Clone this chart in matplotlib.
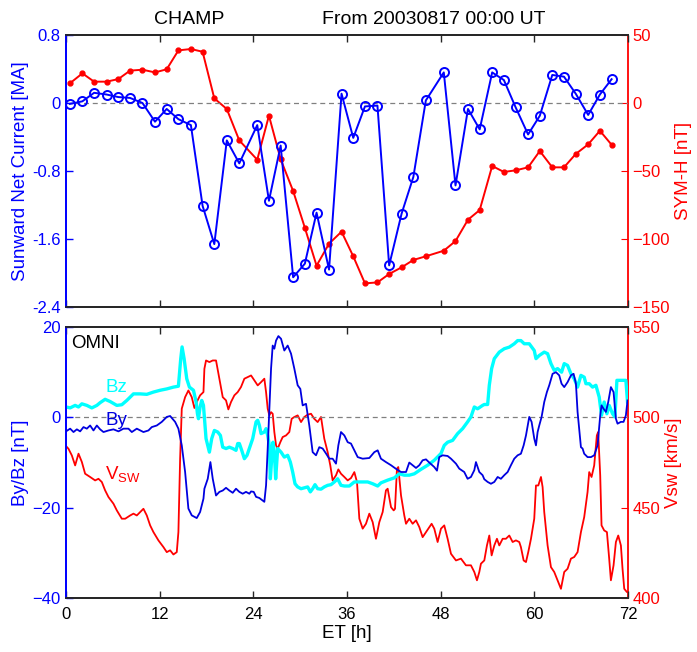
import matplotlib
matplotlib.use("Agg")
import matplotlib.pyplot as plt

plt.rcParams['font.family'] = ['Liberation Sans', 'DejaVu Sans']
plt.rcParams['font.size'] = 13.5

# CHAMP passes: sunward net current and SYM-H
et_champ = [0.5, 2.1, 3.6, 5.2, 6.7, 8.2, 9.8, 11.4, 12.9, 14.4,
            16.0, 17.5, 19.0, 20.6, 22.2, 24.5, 26.0, 27.5, 29.1, 30.6,
            32.1, 33.7, 35.3, 36.8, 38.3, 39.9, 41.4, 43.0, 44.5, 46.1,
            48.4, 49.9, 51.5, 53.0, 54.6, 56.1, 57.6, 59.2, 60.7, 62.3,
            63.8, 65.3, 66.9, 68.4, 69.9]
net_current = [-0.01, 0.02, 0.12, 0.10, 0.07, 0.06, 0.0, -0.22, -0.07, -0.19,
               -0.26, -1.21, -1.66, -0.44, -0.71, -0.26, -1.15, -0.50, -2.05, -1.89,
               -1.29, -1.96, 0.11, -0.41, -0.04, -0.03, -1.91, -1.30, -0.87, 0.03,
               0.36, -0.97, -0.07, -0.31, 0.36, 0.27, -0.05, -0.37, -0.15, 0.33,
               0.31, 0.11, -0.14, 0.10, 0.28]
sym_h = [14.5, 21.8, 15.7, 15.7, 17.6, 23.8, 24.5, 22.5, 24.8, 38.7,
         39.7, 37.7, 3.4, -4.4, -27.5, -41.7, -9.3, -41.4, -64.7, -91.7,
         -119.6, -103.4, -94.6, -112.7, -132.6, -131.9, -125.7, -120.8, -115.4, -112.7,
         -108.6, -101.5, -85.8, -78.7, -46.3, -50.7, -49.5, -47.3, -35.3, -47.3,
         -47.3, -37.5, -30.4, -20.4, -30.7]

# OMNI IMF Bz
et_bz = [0.0, 0.53, 1.17, 1.60, 2.03, 2.67, 3.31, 3.95, 4.37, 5.01,
         5.66, 6.51, 7.15, 7.79, 8.64, 9.50, 10.35, 11.20, 12.06, 12.91,
         13.76, 14.40, 14.70, 14.87, 15.13, 15.47, 15.81, 16.33, 16.67, 16.84,
         16.97, 17.18, 17.39, 17.61, 17.94, 18.37, 18.67, 19.01, 19.44, 19.78,
         20.08, 20.50, 20.93, 21.36, 21.78, 22.00, 22.21, 22.51, 22.85, 23.19,
         23.49, 23.92, 24.35, 24.56, 24.77, 24.99, 25.41, 25.63, 25.84, 26.05,
         26.18, 26.35, 26.52, 26.69, 26.86, 27.12, 27.55, 27.97, 28.40, 28.74,
         29.04, 29.34, 29.68, 30.11, 30.53, 30.96, 31.30, 31.60, 31.90, 32.24,
         32.67, 33.09, 33.52, 33.95, 34.38, 34.80, 35.23, 35.66, 36.30, 36.94,
         37.79, 38.65, 39.29, 39.93, 40.35, 41.21, 42.06, 42.70, 43.34, 43.98,
         44.62, 45.48, 46.33, 47.18, 48.04, 48.46, 48.89, 49.53, 50.17, 50.81,
         51.45, 51.88, 52.31, 52.73, 53.37, 53.59, 54.02, 54.23, 54.53, 54.87,
         55.51, 56.15, 56.79, 57.43, 57.86, 58.28, 58.71, 59.35, 59.99, 60.21,
         60.63, 61.27, 61.70, 62.13, 62.55, 62.98, 63.49, 63.83, 64.26, 64.69,
         65.11, 65.54, 65.97, 66.39, 66.61, 67.03, 67.46, 67.89, 68.31, 68.61,
         68.95, 69.30, 69.59, 70.02, 70.32, 70.58, 71.17, 71.73, 71.94]
bz = [2.3, 2.1, 2.65, 2.3, 3.0, 2.65, 2.1, 2.65, 3.25, 4.0,
      3.5, 2.65, 2.8, 3.75, 5.2, 5.2, 5.1, 5.6, 6.0, 6.3,
      6.7, 6.9, 13.0, 15.6, 13.0, 8.55, 6.7, 6.0, 3.4, 0.8,
      -0.3, 2.3, 3.75, 2.65, -4.7, -7.7, -4.7, -2.9, -3.25, -4.0,
      -6.6, -6.9, -6.6, -6.9, -7.3, -5.8, -5.8, -7.3, -9.15, -8.4,
      -6.9, -4.7, -1.0, -0.65, -1.75, -3.6, -3.25, -2.5, -4.0, -6.2,
      -13.6, -9.15, -5.5, -7.7, -13.6, -6.9, -7.7, -8.8, -8.4, -9.9,
      -12.1, -14.7, -15.4, -15.8, -15.6, -15.4, -16.5, -15.8, -14.9, -15.8,
      -15.9, -15.4, -15.05, -14.9, -14.3, -13.6, -15.05, -15.2, -15.2, -14.3,
      -14.3, -14.3, -14.7, -15.2, -14.5, -13.9, -13.4, -12.5, -12.8, -12.8,
      -12.5, -11.5, -10.6, -9.5, -8.0, -6.2, -5.5, -5.1, -3.6, -2.5,
      -1.0, 0.1, 2.3, 1.9, 2.65, 2.85, 2.85, 7.1, 10.8, 13.0,
      14.45, 15.2, 15.55, 16.3, 17.0, 17.0, 16.3, 16.3, 14.8, 13.0,
      13.7, 14.45, 14.1, 11.9, 10.4, 10.8, 10.0, 11.9, 11.5, 9.65,
      8.55, 6.7, 9.3, 8.9, 7.45, 7.45, 6.7, 7.1, 4.5, 0.45,
      3.4, 0.8, 2.65, 0.8, 0.1, 8.2, 8.2, 8.2, 3.4]

# OMNI IMF By
et_by = [0.0, 0.53, 0.96, 1.39, 1.81, 2.24, 2.67, 3.09, 3.52, 3.95,
         4.37, 4.80, 5.44, 6.08, 6.72, 7.36, 8.00, 8.43, 9.07, 9.92,
         10.56, 10.99, 11.63, 12.27, 12.91, 13.34, 13.98, 14.40, 14.83, 15.26,
         15.68, 16.11, 16.75, 17.18, 17.61, 17.73, 18.16, 18.50, 18.80, 19.22,
         19.65, 20.08, 20.50, 20.93, 21.36, 21.78, 22.21, 22.64, 23.06, 23.49,
         23.71, 24.05, 24.35, 24.77, 25.41, 25.63, 25.84, 26.05, 26.27, 26.48,
         26.69, 26.91, 27.21, 27.55, 27.97, 28.40, 28.83, 29.25, 29.68, 30.02,
         30.32, 30.75, 31.17, 31.60, 32.03, 32.45, 32.88, 33.31, 33.73, 34.16,
         34.59, 34.89, 35.23, 35.66, 36.09, 36.51, 36.94, 37.37, 38.01, 38.86,
         39.50, 39.93, 40.35, 40.99, 41.64, 42.28, 42.92, 43.56, 43.98, 44.41,
         44.84, 45.26, 45.69, 46.12, 46.54, 47.18, 47.53, 47.82, 48.25, 48.89,
         49.32, 49.96, 50.38, 51.02, 51.45, 51.88, 52.31, 52.52, 52.95, 53.37,
         53.59, 54.02, 54.44, 54.87, 55.30, 55.72, 56.15, 56.58, 57.00, 57.43,
         57.86, 58.28, 58.63, 58.93, 59.35, 59.65, 59.99, 60.21, 60.42, 60.63,
         60.93, 61.27, 61.61, 61.91, 62.34, 62.77, 63.19, 63.49, 63.83, 64.26,
         64.69, 65.03, 65.33, 65.54, 65.75, 65.97, 66.18, 66.39, 66.82, 67.25,
         67.67, 68.10, 68.44, 68.61, 68.87, 69.17, 69.47, 69.81, 70.15, 70.45,
         70.66, 71.09, 71.43, 71.73, 71.94]
by = [-3.1, -2.5, -3.25, -2.65, -3.1, -2.15, -2.5, -1.8, -2.9, -1.8,
      -2.65, -3.25, -2.9, -2.65, -3.1, -2.5, -2.5, -3.25, -2.5, -3.25,
      -2.9, -2.15, -1.8, -1.0, 0.1, 0.3, -1.0, -2.5, -6.2, -12.1,
      -20.2, -21.7, -22.3, -20.95, -18.0, -15.8, -13.6, -9.9, -13.6, -17.3,
      -16.5, -16.2, -15.6, -16.2, -16.7, -15.8, -16.5, -16.9, -16.5, -16.9,
      -16.4, -16.5, -17.6, -17.85, -18.7, -15.05, -6.9, 1.9, 10.8, 15.9,
      15.2, 17.0, 18.0, 17.4, 14.8, 15.9, 14.1, 10.8, 7.1, 6.3,
      2.65, 3.0, -1.8, -7.7, -8.4, -6.6, -6.9, -8.0, -9.15, -9.15,
      -10.25, -6.2, -3.25, -4.0, -5.5, -5.8, -7.3, -8.8, -9.15, -9.0,
      -7.7, -7.3, -9.15, -9.9, -10.6, -11.4, -12.1, -12.1, -10.0, -10.6,
      -11.2, -10.6, -9.5, -9.3, -10.0, -11.0, -11.8, -8.8, -8.4, -8.55,
      -9.15, -10.25, -11.35, -12.1, -13.6, -13.2, -11.7, -9.9, -12.1, -12.8,
      -13.7, -14.3, -14.7, -14.3, -13.2, -13.6, -12.8, -12.1, -10.6, -9.15,
      -8.4, -8.05, -6.2, -4.0, 0.1, -1.0, -4.7, -6.2, -3.25, -1.8,
      0.1, 3.4, 5.6, 7.1, 9.65, 10.0, 9.3, 7.45, 6.7, 7.8,
      9.3, 9.65, 7.45, 1.2, -2.5, -6.6, -6.9, -8.05, -8.8, -8.8,
      -8.4, -6.2, 0.4, 2.65, 1.9, 1.2, 3.4, 6.7, 5.6, -0.3,
      -1.4, -1.0, -1.0, 0.45, 3.75]

# OMNI solar wind speed
et_vsw = [0.0, 0.32, 0.75, 1.17, 1.60, 2.03, 2.45, 3.09, 3.73, 4.16,
          4.59, 5.01, 5.44, 6.08, 6.51, 7.15, 7.58, 8.22, 8.64, 9.07,
          9.50, 9.92, 10.35, 10.78, 11.20, 11.84, 12.48, 12.91, 13.34, 13.76,
          14.19, 14.40, 14.62, 14.83, 15.26, 15.68, 16.11, 16.45, 16.75, 17.18,
          17.61, 17.73, 17.94, 18.37, 18.80, 19.22, 19.65, 20.08, 20.50, 20.80,
          21.14, 21.57, 22.00, 22.42, 22.85, 23.28, 23.71, 24.13, 24.56, 24.99,
          25.41, 25.63, 25.84, 26.05, 26.27, 26.48, 26.69, 26.91, 27.12, 27.46,
          27.76, 28.19, 28.61, 28.91, 29.25, 29.68, 30.11, 30.53, 30.96, 31.39,
          31.81, 32.24, 32.67, 33.09, 33.52, 33.86, 34.16, 34.59, 34.89, 35.23,
          35.66, 36.09, 36.51, 36.94, 37.28, 37.58, 38.01, 38.43, 38.86, 39.29,
          39.71, 40.14, 40.57, 40.99, 41.21, 41.64, 41.98, 42.15, 42.40, 42.57,
          42.92, 43.34, 43.56, 43.98, 44.41, 44.84, 45.26, 45.69, 46.12, 46.54,
          46.84, 47.18, 47.61, 48.04, 48.46, 48.89, 49.32, 49.96, 50.60, 51.24,
          51.88, 52.31, 52.65, 52.95, 53.16, 53.59, 53.93, 54.23, 54.53, 54.87,
          55.21, 55.51, 55.94, 56.36, 56.79, 57.22, 57.64, 58.07, 58.28, 58.63,
          58.93, 59.22, 59.57, 59.99, 60.21, 60.51, 60.85, 61.06, 61.27, 61.70,
          62.13, 62.55, 62.98, 63.41, 63.83, 64.26, 64.69, 65.11, 65.54, 65.97,
          66.39, 66.82, 67.03, 67.33, 67.67, 68.01, 68.18, 68.44, 68.61, 68.95,
          69.30, 69.59, 69.81, 70.15, 70.45, 70.75, 71.09, 71.30, 71.52, 71.86,
          72.0]
vsw = [484.1, 482.6, 478.9, 473.4, 479.9, 475.3, 468.8, 467.0, 465.1, 466.0,
       464.2, 459.6, 455.9, 452.2, 448.5, 443.9, 443.9, 445.7, 446.7, 445.7,
       447.6, 449.4, 445.7, 440.2, 436.5, 431.9, 428.2, 425.4, 426.4, 424.1,
       425.4, 436.5, 477.1, 504.8, 511.2, 514.9, 511.2, 505.2, 508.5, 512.2,
       514.0, 526.9, 531.5, 530.6, 531.5, 531.5, 521.4, 511.2, 509.4, 504.4,
       508.5, 512.2, 514.0, 516.8, 521.4, 522.3, 523.2, 520.5, 517.7, 519.5,
       521.4, 514.0, 504.8, 501.1, 502.9, 502.0, 491.9, 484.5, 482.6, 486.3,
       489.1, 490.0, 491.9, 499.2, 500.2, 501.1, 497.4, 500.2, 501.5, 502.0,
       499.2, 497.4, 500.2, 488.2, 480.8, 473.4, 465.1, 467.9, 471.2, 468.8,
       467.0, 465.1, 466.4, 469.7, 464.2, 443.9, 438.4, 441.1, 446.7, 442.0,
       432.8, 442.0, 447.6, 459.6, 460.5, 450.3, 448.5, 449.4, 471.6, 472.5,
       456.8, 445.7, 441.1, 443.9, 441.1, 443.0, 439.3, 433.7, 436.5, 439.3,
       441.1, 438.4, 431.0, 438.4, 440.2, 432.8, 424.5, 420.8, 421.8, 418.1,
       418.1, 414.4, 409.8, 414.4, 419.0, 420.8, 429.1, 434.6, 423.6, 429.1,
       432.8, 429.1, 432.8, 432.8, 434.6, 431.0, 431.9, 431.0, 428.2, 420.8,
       419.9, 425.4, 432.8, 443.9, 462.3, 462.3, 467.0, 461.4, 447.6, 429.1,
       417.1, 414.4, 409.8, 405.1, 414.4, 416.2, 421.8, 422.7, 425.4, 436.5,
       444.8, 458.7, 469.7, 467.0, 473.4, 490.0, 491.9, 467.9, 440.2, 437.4,
       436.5, 421.8, 409.8, 418.1, 431.0, 434.6, 429.1, 416.2, 405.1, 403.3,
       403.3]

xticks = [0, 12, 24, 36, 48, 60, 72]
blue = '#0000ff'
red = '#ff0000'
cyan = '#00ffff'
spine_dark = '#262626'


def style_axes(ax, ax2, lcol, rcol):
    ax.set_xlim(0, 72)
    ax.set_xticks(xticks)
    ax.tick_params(direction='in', top=True, length=5, width=1, color=spine_dark,
                   labelsize=12)
    ax.tick_params(axis='x', pad=6.5)
    ax.tick_params(axis='y', colors=lcol, length=5, pad=4)
    ax2.tick_params(axis='y', direction='in', colors=rcol, length=5, pad=3,
                    labelsize=12)
    for s in ['top', 'bottom']:
        ax.spines[s].set_color(spine_dark)
        ax2.spines[s].set_color(spine_dark)
    ax.spines['left'].set_color(lcol)
    ax2.spines['left'].set_color(lcol)
    ax2.spines['right'].set_color(rcol)
    ax.spines['right'].set_visible(False)
    for sp in list(ax.spines.values()) + list(ax2.spines.values()):
        sp.set_linewidth(1.3)


fig = plt.figure(figsize=(6.97, 6.52), dpi=100)
ax1 = fig.add_axes([0.0947, 0.5291, 0.8063, 0.4172])
ax1r = ax1.twinx()
ax3 = fig.add_axes([0.0947, 0.0828, 0.8063, 0.4156])
ax3r = ax3.twinx()

# top panel
ax1.axhline(0, color='grey', lw=0.9, ls=(0, (4, 3)), zorder=1)
ax1.plot(et_champ, net_current, '-o', color=blue, lw=1.4, ms=6.5,
         mfc='none', mew=1.4, zorder=3)
ax1r.plot(et_champ, sym_h, '-o', color=red, lw=1.4, ms=3.5, zorder=2)
ax1.set_ylim(-2.4, 0.8)
ax1.set_yticks([0.8, 0, -0.8, -1.6, -2.4])
ax1.set_yticklabels(['0.8', '0', '-0.8', '-1.6', '-2.4'])
ax1r.set_ylim(-150, 50)
ax1r.set_yticks([50, 0, -50, -100, -150])
ax1.set_xticklabels([])
ax1.set_ylabel('Sunward Net Current [MA]', color=blue, labelpad=2)
ax1r.set_ylabel('SYM-H [nT]', color=red, labelpad=4)
style_axes(ax1, ax1r, blue, red)
ax1.set_zorder(ax1r.get_zorder() + 1)
ax1.patch.set_visible(False)

# bottom panel
ax3.axhline(0, color='grey', lw=0.9, ls=(0, (4, 3)), zorder=1)
ax3r.plot(et_vsw, vsw, color=red, lw=1.3)
ax3.plot(et_bz, bz, color=cyan, lw=2.4, zorder=2)
ax3.plot(et_by, by, color='#0000e0', lw=1.3, zorder=3)
ax3.set_ylim(-40, 20)
ax3.set_yticks([20, 0, -20, -40])
ax3r.set_ylim(400, 550)
ax3r.set_yticks([550, 500, 450, 400])
ax3.set_xlabel('ET [h]', labelpad=2)
ax3.set_ylabel('By/Bz [nT]', color=blue, labelpad=2)
ax3r.set_ylabel('Vsw [km/s]', color=red, labelpad=4)
style_axes(ax3, ax3r, blue, red)
ax3.set_zorder(ax3r.get_zorder() + 1)
ax3.patch.set_visible(False)

ax3.text(0.6, 16.3, 'OMNI', color='black', fontsize=13.5, va='center')
ax3.text(5.0, 6.7, 'Bz', color=cyan, fontsize=13.5, va='center')
ax3.text(5.0, -0.8, 'By', color='#0000e0', fontsize=13.5, va='center')
ax3.text(5.0, -12.8, r'V$_{\mathregular{SW}}$', color=red, fontsize=13.5, va='center')

fig.text(0.271, 0.970, 'CHAMP', ha='center', va='center', fontsize=14)
fig.text(0.622, 0.970, 'From 20030817 00:00 UT', ha='center', va='center', fontsize=14)

fig.savefig('out.png', dpi=100)
